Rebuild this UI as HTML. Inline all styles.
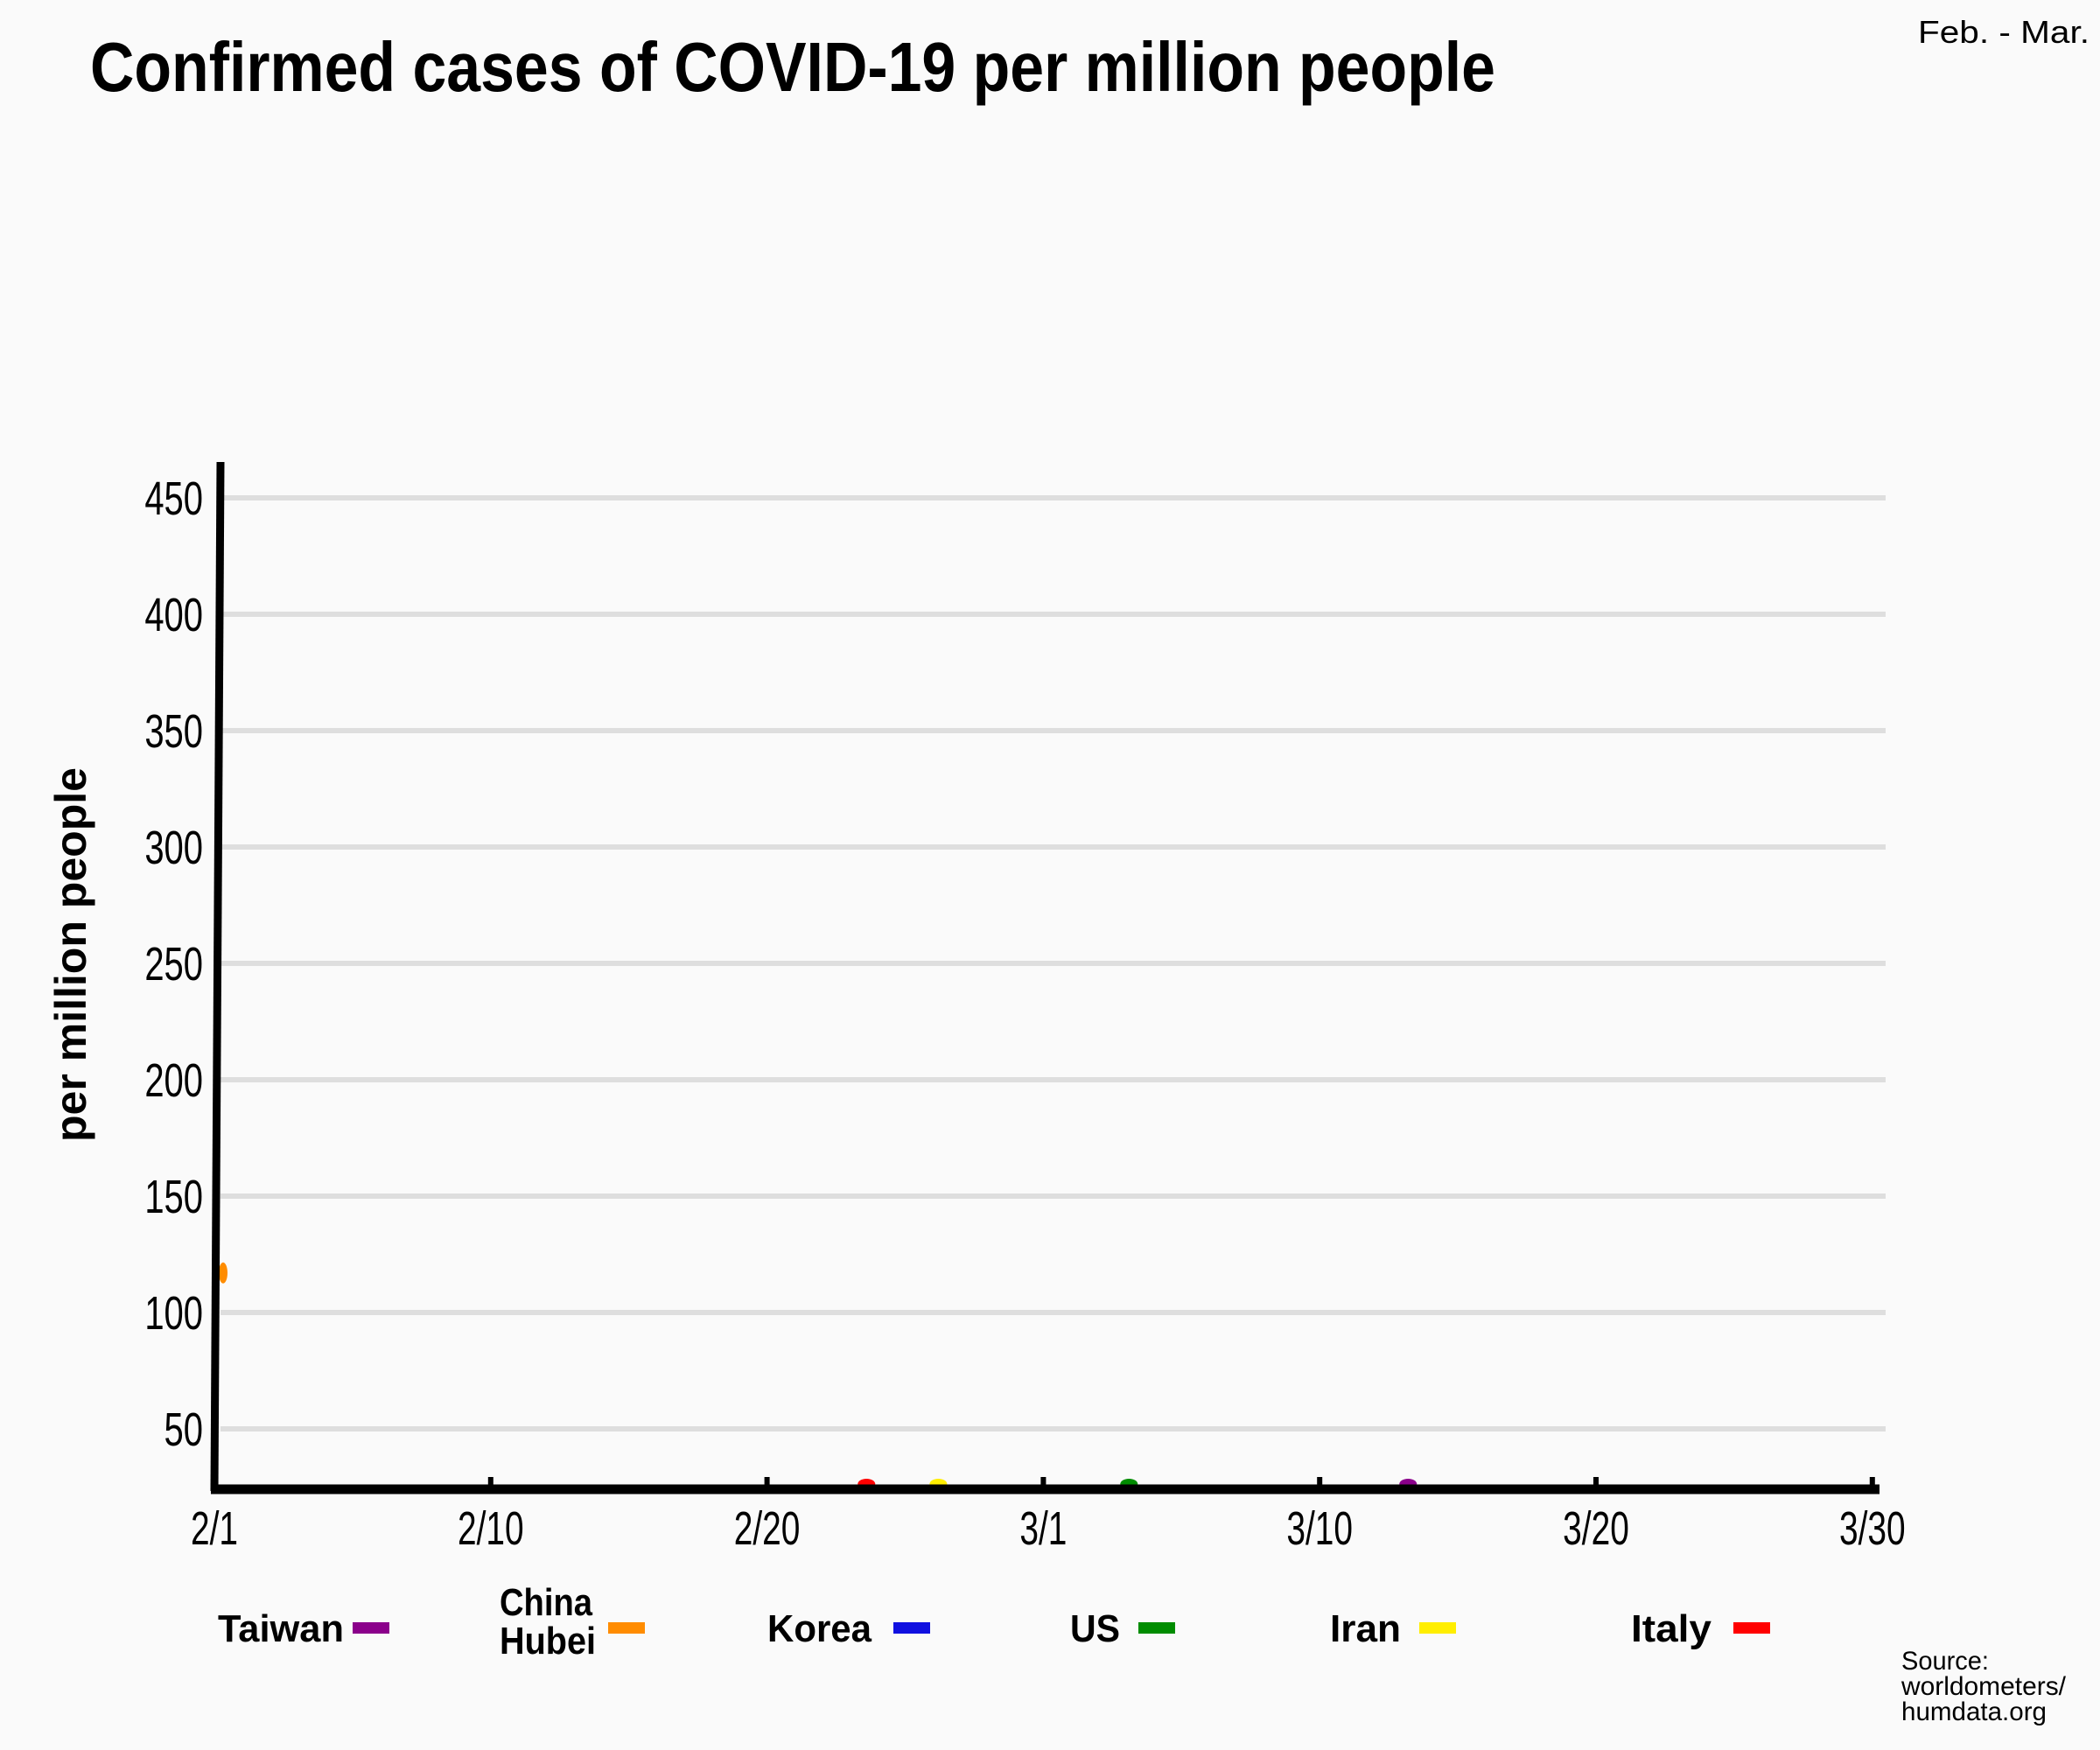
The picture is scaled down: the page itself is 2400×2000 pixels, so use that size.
<!DOCTYPE html>
<html><head><meta charset="utf-8">
<style>
html,body{margin:0;padding:0;background:#fafafa;}
svg{display:block;font-family:"Liberation Sans",sans-serif;}
</style></head>
<body>
<svg id="chart" width="2400" height="2000" viewBox="0 0 2400 2000" xmlns="http://www.w3.org/2000/svg">
<rect width="2400" height="2000" fill="#fafafa"/>
<text x="103" y="104" font-size="80" font-weight="bold" textLength="1606" lengthAdjust="spacingAndGlyphs" fill="#000">Confirmed cases of COVID-19 per million people</text>
<text x="2192" y="49" font-size="36" textLength="196" lengthAdjust="spacingAndGlyphs" fill="#000">Feb. - Mar.</text>
<text transform="translate(98,1091) rotate(-90)" text-anchor="middle" font-size="50" font-weight="bold" textLength="428" lengthAdjust="spacingAndGlyphs" fill="#000">per million people</text>
<g id="grid"></g>
<g id="yticks"></g>
<g id="xticks"></g>
<g id="marks"></g>
<line x1="252" y1="528" x2="245" y2="1704" stroke="#000" stroke-width="9"/>
<line x1="241" y1="1702" x2="2148" y2="1702" stroke="#000" stroke-width="11"/>
<g id="legend"></g>
<text font-size="30" fill="#000">
<tspan x="2173" y="1908" textLength="100" lengthAdjust="spacingAndGlyphs">Source:</tspan>
<tspan x="2173" y="1937" textLength="188" lengthAdjust="spacingAndGlyphs">worldometers/</tspan>
<tspan x="2173" y="1966" textLength="166" lengthAdjust="spacingAndGlyphs">humdata.org</tspan>
</text>
</svg>
<script>
const yTicks = [50,100,150,200,250,300,350,400,450];
const xTickLabels = ["2/1","2/10","2/20","3/1","3/10","3/20","3/30"];
const xTickDays = [0,9,19,29,39,49,59];
const seriesNames = ["Taiwan","China Hubei","Korea","US","Iran","Italy"];
const seriesColors = ["#8b008b","#ff8c00","#1010e0","#008c00","#ffee00","#ff0000"];
const seriesDays = [[42.2],[0],[],[32.1],[25.2],[22.6]];
const seriesValues = [[0.5],[117],[],[0.3],[0.4],[0.8]];

const NS="http://www.w3.org/2000/svg";
function mk(tag,attrs,parent){const e=document.createElementNS(NS,tag);for(const k in attrs)e.setAttribute(k,attrs[k]);parent.appendChild(e);return e;}
const X0=245, XSTEP=315.8, Y50=1633, PER50=133;
function yScale(v){return Y50-(v-50)/50*PER50;}
function xScale(d){
  for(let i=0;i<xTickDays.length-1;i++){
    if(d<=xTickDays[i+1]){return X0+(i+(d-xTickDays[i])/(xTickDays[i+1]-xTickDays[i]))*XSTEP;}
  }
  return X0+(xTickDays.length-1)*XSTEP;
}
const grid=document.getElementById('grid'), yt=document.getElementById('yticks'), xt=document.getElementById('xticks'), marks=document.getElementById('marks'), legend=document.getElementById('legend');
yTicks.forEach((v,i)=>{
  const y=yScale(v);
  const l=mk('line',{x1:252,x2:2155,y1:y,y2:y,stroke:'#dedede','stroke-width':6},grid);
  
  
  const t=mk('text',{x:232,y:y+19,'text-anchor':'end','font-size':54,fill:'#000',transform:`translate(232,0) scale(0.74,1) translate(-232,0)`},yt);
  t.textContent=v;
  
  
});
xTickLabels.forEach((lab,i)=>{
  const x=xScale(xTickDays[i]);
  if(i>0){
    const tk=mk('line',{x1:x,x2:x,y1:1688,y2:1702,stroke:'#000','stroke-width':6},xt);
    
    
  }
  const t=mk('text',{x:x,y:1765,'text-anchor':'middle','font-size':54,fill:'#000',transform:`translate(${x},0) scale(0.72,1) translate(${-x},0)`},xt);
  t.textContent=lab;
  
  
});
seriesNames.forEach((n,s)=>{
  seriesDays[s].forEach((d,j)=>{
    const x=xScale(d)+(d===0?10:0);
    const y=Math.min(yScale(seriesValues[s][j]),1696);
    const c=mk('ellipse',{cx:x,cy:y,rx:d===0?5:10,ry:d===0?12:6,fill:seriesColors[s]},marks);
    
    
  });
});
const legTextX=[249,571,877,1223,1520,1864], legTextW=[144,110,119,57,81,92], legSwX=[403,695,1021,1301,1622,1981];
seriesNames.forEach((n,s)=>{
  const g=mk('g',{},legend);
  
  
  if(n==="China Hubei"){
    const t1=mk('text',{x:legTextX[s],y:1846,'font-size':44,'font-weight':'bold',textLength:106,lengthAdjust:'spacingAndGlyphs'},g);t1.textContent="China";
    const t2=mk('text',{x:legTextX[s],y:1890,'font-size':44,'font-weight':'bold',textLength:110,lengthAdjust:'spacingAndGlyphs'},g);t2.textContent="Hubei";
  } else {
    const t=mk('text',{x:legTextX[s],y:1876,'font-size':44,'font-weight':'bold',textLength:legTextW[s],lengthAdjust:'spacingAndGlyphs'},g);t.textContent=n;
  }
  mk('rect',{x:legSwX[s],y:1854,width:42,height:13,fill:seriesColors[s]},g);
});
</script>
</body></html>
